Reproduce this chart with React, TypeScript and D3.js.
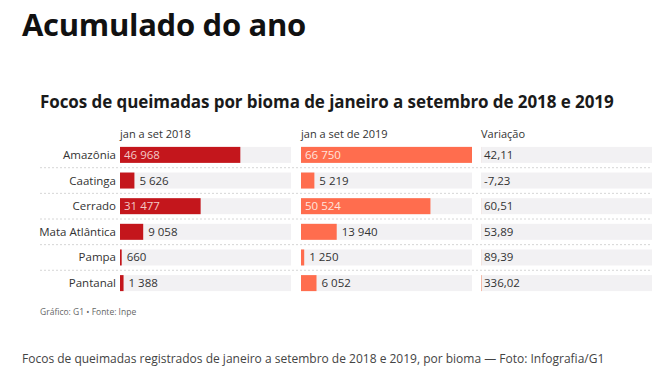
import React from "react";
import * as d3 from "d3";

const biomes = ["Amazônia", "Caatinga", "Cerrado", "Mata Atlântica", "Pampa", "Pantanal"];
const values2018 = [46968, 5626, 31477, 9058, 660, 1388];
const values2019 = [66750, 5219, 50524, 13940, 1250, 6052];
const variation = [42.11, -7.23, 60.51, 53.89, 89.39, 336.02];
const columnHeaders = ["jan a set 2018", "jan a set de 2019", "Variação"];

const W = 659;
const H = 380;
const FONT = "'Open Sans', 'Noto Sans', sans-serif";

const fmtInt = (v: number) => d3.format(",")(v).replace(/,/g, " ");
const fmtDec = (v: number) => d3.format(".2f")(v).replace(".", ",").replace("\u2212", "-");

export default function App() {
  const colX = [120, 301, 481];
  const colW = 171;
  const x = d3.scaleLinear().domain([0, d3.max(values2019) as number]).range([0, colW]);
  const y = d3.scaleBand<string>().domain(biomes).range([142, 296]).paddingInner(0.375).paddingOuter(0.19);
  const bh = 16;
  const step = y.step();

  const cols = [
    { vals: values2018, color: "#c4161c", text: "#f3c9c6", fmt: fmtInt },
    { vals: values2019, color: "#ff6d4e", text: "#ffe3dc", fmt: fmtInt },
  ];

  return (
    <svg width={W} height={H} style={{ position: "absolute", left: 0, top: 0, background: "#fff" }}>
      <text x={22} y={36} fontFamily={FONT} fontWeight={700} fontSize={31} fill="#111" letterSpacing={-0.3}>
        Acumulado do ano
      </text>
      <text x={40} y={108} fontFamily={FONT} fontWeight={700} fontSize={17} fill="#1a1a1a" letterSpacing={-0.08}>
        Focos de queimadas por bioma de janeiro a setembro de 2018 e 2019
      </text>
      {columnHeaders.map((h, i) => (
        <text key={h} x={colX[i]} y={138} fontFamily={FONT} fontSize={11} fill="#333">
          {h}
        </text>
      ))}
      {biomes.map((b, i) => {
        const cy = (y(b) as number) + y.bandwidth() / 2;
        const top = cy - bh / 2;
        return (
          <g key={b}>
            <text x={116} y={cy + 4} textAnchor="end" fontFamily={FONT} fontSize={11.5} fill="#333">
              {b}
            </text>
            {i < biomes.length - 1 && (
              <line x1={40} x2={652} y1={cy + step / 2} y2={cy + step / 2} stroke="#d6d6d6" strokeWidth={1} strokeDasharray="2,2" />
            )}
            {cols.map((c, j) => {
              const w = x(c.vals[i]);
              const inside = w > 60;
              return (
                <g key={j}>
                  <rect x={colX[j]} y={top} width={colW} height={bh} fill="#f2f1f3" />
                  <rect x={colX[j]} y={top} width={w} height={bh} fill={c.color} />
                  <text
                    x={inside ? colX[j] + 4 : colX[j] + w + 5}
                    y={cy + 4}
                    fontFamily={FONT}
                    fontSize={11.5}
                    fill={inside ? c.text : "#333"}
                  >
                    {c.fmt(c.vals[i])}
                  </text>
                </g>
              );
            })}
            <rect x={colX[2]} y={top} width={colW} height={bh} fill="#f2f1f3" />
            <rect x={colX[2]} y={top} width={Math.max(0, x(variation[i]))} height={bh} fill="#f6b39c" />
            <text x={colX[2] + 3} y={cy + 4} fontFamily={FONT} fontSize={11.5} fill="#333">
              {fmtDec(variation[i])}
            </text>
          </g>
        );
      })}
      <text x={40} y={315} fontFamily={FONT} fontSize={8.5} fill="#666">
        Gráfico: G1 • Fonte: Inpe
      </text>
      <text x={22} y={363} fontFamily={FONT} fontSize={12} fill="#444">
        Focos de queimadas registrados de janeiro a setembro de 2018 e 2019, por bioma — Foto: Infografia/G1
      </text>
    </svg>
  );
}
